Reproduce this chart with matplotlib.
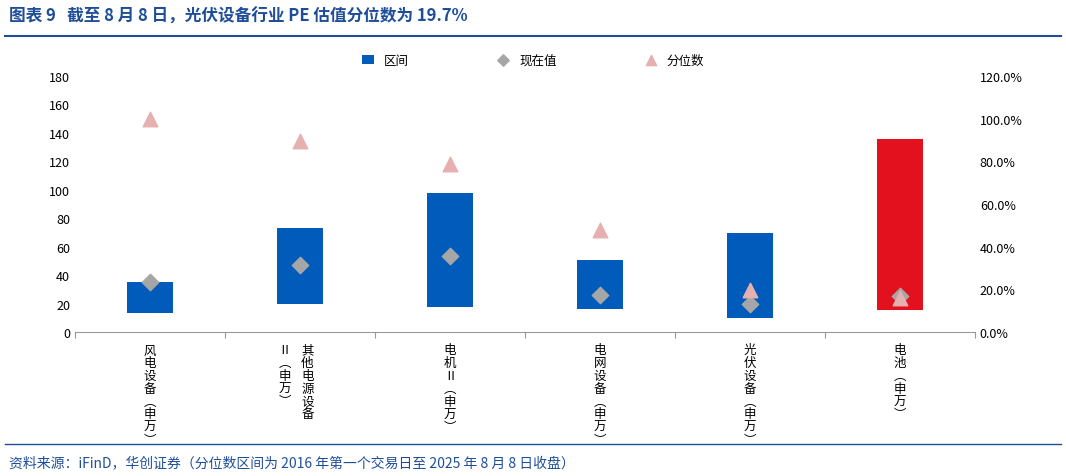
import matplotlib.pyplot as plt
import numpy as np

plt.rcParams['font.family'] = ['Noto Sans CJK SC', 'DejaVu Sans']

categories = ['风电设备(申万)', '其他电源设备Ⅱ(申万)', '电机Ⅱ(申万)', '电网设备(申万)', '光伏设备(申万)', '电池(申万)']
range_low = [13.4, 19.7, 17.6, 16.2, 9.8, 15.5]
range_high = [35, 73, 97.7, 50.6, 69.6, 135.7]
current = [35, 47, 53.4, 26, 19.7, 25]
percentile = [100, 89.5, 78.8, 47.8, 19.7, 16.0]

blue = '#005BBB'
red = '#E3101E'

fig = plt.figure(figsize=(10.66, 4.77), dpi=100)
ax = fig.add_axes([75/1066, 1-333/477, 900/1066, 256/477])
x = np.arange(len(categories))
colors = [blue] * 5 + [red]
bars = ax.bar(x, np.array(range_high) - np.array(range_low), bottom=range_low, width=0.31,
              color=colors, label='区间')
pts = ax.scatter(x, current, marker='D', s=70, color='#A6A6A6', zorder=3, label='现在值')
ax.set_ylim(0, 180)
ax.set_yticks(range(0, 181, 20))
ax.set_xlim(-0.5, len(categories) - 0.5)
ax.set_xticks(np.arange(-0.5, len(categories), 1))
ax.set_xticklabels([])
ax.tick_params(axis='x', length=4, color='#999999')
ax.tick_params(axis='y', length=0, labelsize=9)
for s in ['top', 'right', 'left']:
    ax.spines[s].set_visible(False)
ax.spines['bottom'].set_color('#999999')

ax2 = ax.twinx()
tri = ax2.scatter(x, percentile, marker='^', s=110, color='#E6B0B0', zorder=4, label='分位数')
ax2.set_ylim(0, 120)
ax2.set_yticks(range(0, 121, 20))
ax2.set_yticklabels([f'{v:.1f}%' for v in range(0, 121, 20)])
ax2.tick_params(axis='y', length=0, labelsize=9)
for s in ['top', 'right', 'left', 'bottom']:
    ax2.spines[s].set_visible(False)

def vert(s):
    return '\n'.join(s.replace('(', '︵').replace(')', '︶'))

for i, c in enumerate(categories):
    if i == 1:
        ax.text(i + 0.05, -8, vert('其他电源设备'), ha='center', va='top', fontsize=9, linespacing=0.98)
        ax.text(i - 0.1, -8, vert('Ⅱ(申万)'), ha='center', va='top', fontsize=9, linespacing=0.98)
    else:
        ax.text(i, -8, vert(c), ha='center', va='top', fontsize=9, linespacing=0.98)

fig.legend([bars, pts, tri], ['区间', '现在值', '分位数'], loc='center', bbox_to_anchor=(0.5, 1-61/477), ncol=3,
           frameon=False, fontsize=9, handlelength=1, columnspacing=7, markerscale=0.7)

fig.text(0.008, 1-17/477, '图表 9   截至 8 月 8 日，光伏设备行业 PE 估值分位数为 19.7%',
         fontsize=12, fontweight='bold', color='#1F4E99', va='center')
fig.add_artist(plt.Line2D([0.005, 0.995], [1-37/477, 1-37/477], color='#1F4E99', lw=1.5))
fig.add_artist(plt.Line2D([0.005, 0.995], [1-445/477, 1-445/477], color='#1F4E99', lw=1))
fig.text(0.008, 1-463/477, '资料来源：iFinD，华创证券（分位数区间为 2016 年第一个交易日至 2025 年 8 月 8 日收盘）',
         fontsize=10, style='italic', color='#1F4E99', va='center')

fig.savefig('out.png', dpi=100)
